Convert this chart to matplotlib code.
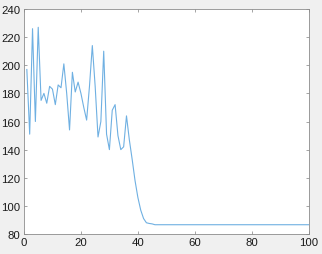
import matplotlib
matplotlib.use("Agg")
import matplotlib.pyplot as plt
import numpy as np

x_vals = list(range(1, 101))
y_head = [197, 151, 226, 160, 227, 175, 180, 173, 185, 183,
          172, 186, 184, 201, 180, 154, 195, 181, 188, 180,
          170, 161, 185, 214, 185, 149, 160, 210, 151, 140,
          168, 172, 150, 140, 142, 164, 147, 133, 118, 106,
          97, 91, 88, 87.5, 87.2]
y_tail = [86.6] * (100 - len(y_head))
y_vals = y_head + y_tail

x_ticks = [0, 20, 40, 60, 80, 100]
y_ticks = [80, 100, 120, 140, 160, 180, 200, 220, 240]

plt.rcParams['font.family'] = ['Liberation Sans', 'DejaVu Sans']

fig = plt.figure(figsize=(3.22, 2.55), dpi=100, facecolor='#F0F0F0')
ax = fig.add_axes([0.0745, 0.0784, 0.8842, 0.8824])
ax.set_facecolor('white')
ax.plot(x_vals, y_vals, color='#6FB0E2', linewidth=0.8)
ax.set_xlim(0, 100)
ax.set_ylim(80, 240)
ax.set_xticks(x_ticks)
ax.set_yticks(y_ticks)
ax.tick_params(direction='in', length=2.5, width=0.5, color='#808080',
               labelsize=8.2, labelcolor='#1a1a1a', top=True, right=True, pad=2.5)
for s in ax.spines.values():
    s.set_color('#8c8c8c')
    s.set_linewidth(0.6)

fig.savefig('out.png', dpi=100, facecolor=fig.get_facecolor())
